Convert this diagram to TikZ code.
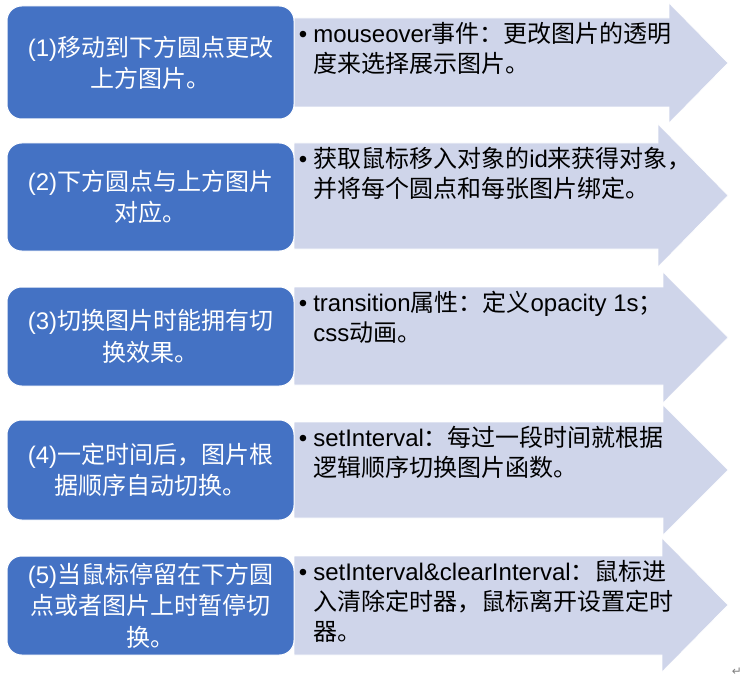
\documentclass[tikz,border=0pt]{standalone}
\usepackage{fontspec}
\setmainfont{Noto Sans CJK SC}
\newfontfamily\symfont{DejaVu Sans}
\newfontfamily\lat{Liberation Sans}
\definecolor{boxblue}{HTML}{4472C4}
\definecolor{arrowfill}{HTML}{CFD5EA}
\newcommand{\bul}{\makebox[11.25pt][l]{\hspace{0.5pt}{\lat •}}}
\newcommand{\ind}{\hspace*{11.25pt}}
\newcommand{\la}[1]{{\lat #1}}
\begin{document}
\begin{tikzpicture}[x=0.75pt,y=-0.75pt,
  stepbox/.style={fill=boxblue, draw=white, line width=0.75pt, rounded corners=11pt},
  arrowshape/.style={fill=arrowfill, draw=white, line width=0.5pt},
  boxtext/.style={text=white, align=center, font=\fontsize{18}{23.5}\selectfont, inner sep=0pt},
  arrowtext/.style={text=black, align=left, anchor=north west, font=\fontsize{18}{22.5}\selectfont, inner sep=0pt}]
\useasboundingbox (0,0) rectangle (746,681);
% arrows
\foreach \bt/\bb/\ht/\hb/\hx in {18/107/3/123/669, 143/249/124/267/658, 287/385/272/403/663, 422/518/405/535/663, 556/655/538/672/662} {
  \path[arrowshape] (294,\bt) -- (\hx,\bt) -- (\hx,\ht) -- (728,{(\ht+\hb)/2}) -- (\hx,\hb) -- (\hx,\bb) -- (294,\bb) -- cycle;
}
% boxes
\path[stepbox] (7,6) rectangle (294,119);
\path[stepbox] (7,143) rectangle (294,251);
\path[stepbox] (7,287) rectangle (294,386);
\path[stepbox] (7,420) rectangle (294,520);
\path[stepbox] (7,556) rectangle (294,655);
% box texts
\node[boxtext] (b1) at (150.5,63) {\la{(1)}移动到下方圆点更改\\上方图片。};
\node[boxtext] (b2) at (150.5,197) {\la{(2)}下方圆点与上方图片\\对应。};
\node[boxtext] (b3) at (150.5,336.5) {\la{(3)}切换图片时能拥有切\\换效果。};
\node[boxtext] (b4) at (150.5,470) {\la{(4)}一定时间后，图片根\\据顺序自动切换。};
\node[boxtext] (b5) at (150.5,605.5) {\la{(5)}当鼠标停留在下方圆\\点或者图片上时暂停切\\换。};
% arrow texts
\node[arrowtext] (t1) at (298,22) {\bul \la{mouseover}事件：更改图片的透明\\\ind 度来选择展示图片。};
\node[arrowtext] (t2) at (298,147) {\bul 获取鼠标移入对象的\la{id}来获得对象，\\\ind 并将每个圆点和每张图片绑定。};
\node[arrowtext] (t3) at (298,291) {\bul \la{transition}属性：定义\la{opacity 1s}；\\\ind \la{css}动画。};
\node[arrowtext] (t4) at (298,426) {\bul \la{setInterval}：每过一段时间就根据\\\ind 逻辑顺序切换图片函数。};
\node[arrowtext] (t5) at (298,560) {\bul \la{setInterval\&clearInterval}：鼠标进\\\ind 入清除定时器，鼠标离开设置定时\\\ind 器。};
\node[text=gray, font=\symfont\fontsize{9}{10}\selectfont, inner sep=0pt] (pm) at (737,672) {↵};
\end{tikzpicture}
\end{document}
